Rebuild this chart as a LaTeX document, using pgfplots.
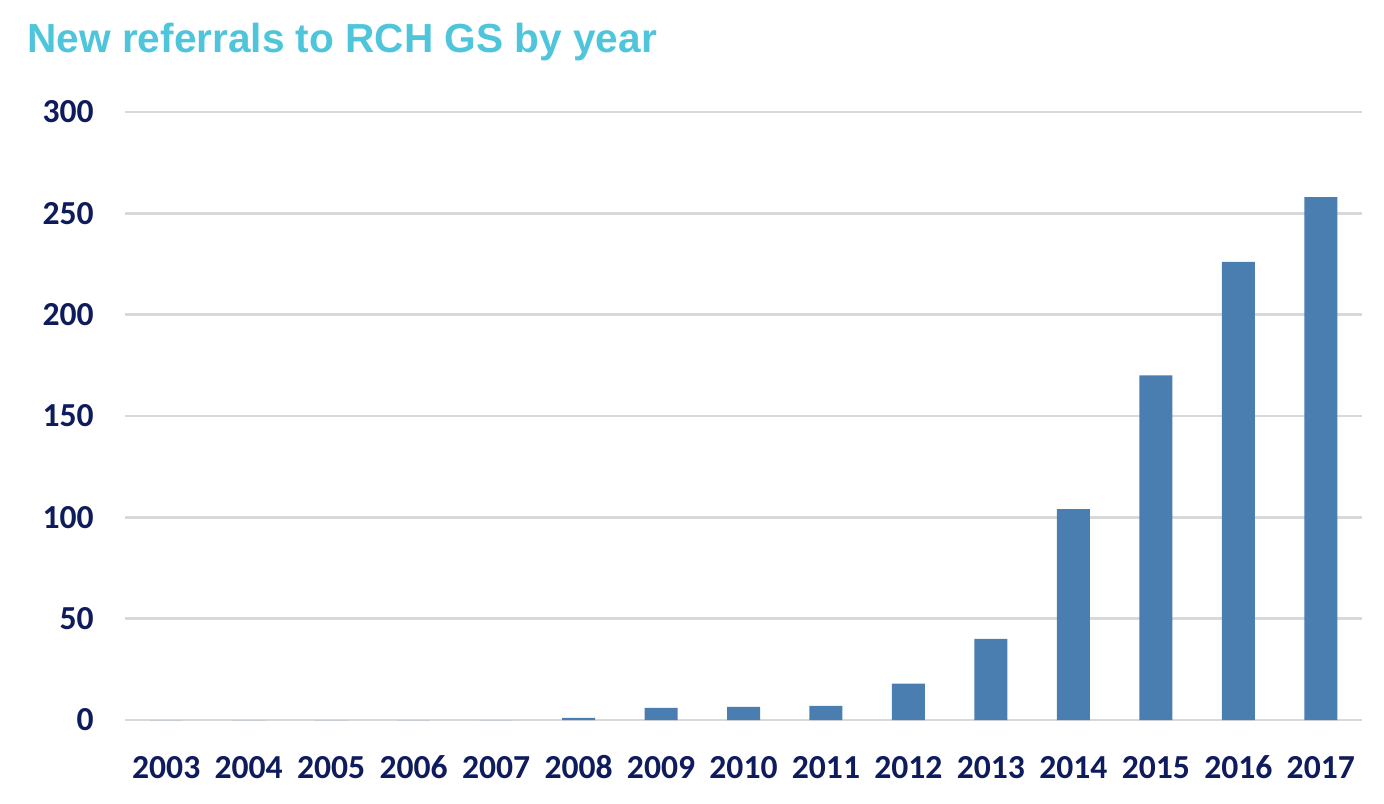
\documentclass[border=0pt]{standalone}
\usepackage{pgfplots}
\pgfplotsset{compat=1.18}
\usepackage{fontspec}
\setmainfont{Carlito}
\newfontfamily\titlefont{Liberation Sans}
\definecolor{barblue}{RGB}{74,126,176}
\definecolor{navy}{RGB}{14,27,92}
\definecolor{titlecyan}{RGB}{79,197,219}
\definecolor{gridgray}{RGB}{217,217,217}
\begin{document}
\begin{tikzpicture}
\useasboundingbox (0,0) rectangle (692bp,402bp);
\node[anchor=base west, inner sep=0, text=titlecyan, font=\titlefont\bfseries\fontsize{20.3bp}{24bp}\selectfont] at (13.5bp,375.5bp) {New referrals to RCH GS by year};
\begin{axis}[
  at={(62.5bp,42bp)}, anchor=south west,
  scale only axis, width=618.5bp, height=304bp,
  xmin=-0.5, xmax=14.5, ymin=0, ymax=300,
  axis line style={draw=none},
  major tick length=0pt,
  ytick={0,50,...,300},
  xtick={0,...,14},
  xticklabels={2003,2004,2005,2006,2007,2008,2009,2010,2011,2012,2013,2014,2015,2016,2017},
  ymajorgrids, grid style={gridgray, line width=1.3bp},
  /pgf/number format/assume math mode=true,
  ticklabel style={font=\bfseries\fontsize{16.8bp}{20bp}\selectfont, text=navy, inner sep=0pt},
  xticklabel style={anchor=base, yshift=-29bp},
  yticklabel style={anchor=east, xshift=-15.5bp},
  clip=false,
]
\addplot[ybar, bar width=16.5bp, fill=barblue, draw=none] coordinates {
(0,0) (1,0) (2,0) (3,0) (4,0) (5,1) (6,6) (7,6.5) (8,7) (9,18) (10,40) (11,104) (12,170) (13,226) (14,258)
};
\end{axis}
\end{tikzpicture}
\end{document}
